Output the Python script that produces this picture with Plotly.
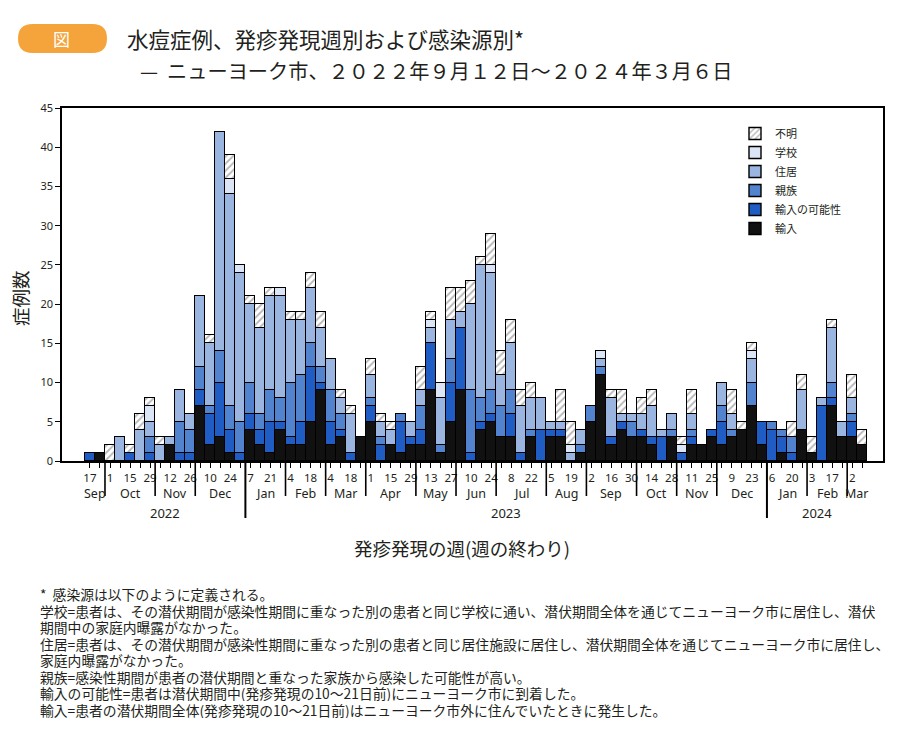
import plotly.graph_objects as go
import pandas as pd

# ---------------- data (weekly counts, week ending Saturday) ----------------
first_week = "2022-09-17"
imported = [0,1,0,0,0,0,0,0,2,0, 0,7,2,3,1,0,4,2,1,4, 2,2,5,9,2,3,0,3,5,0,
            2,1,2,2,9,1,5,9,0,4, 5,3,3,0,3,0,3,3,0,1, 5,11,2,4,3,3,2,0,3,0,
            2,2,3,2,3,4,7,2,0,1, 0,4,1,0,7,3,3,2]
possible = [1,0,0,0,1,0,1,0,0,1, 1,2,4,7,3,1,2,2,4,1, 1,3,7,1,3,1,1,0,2,2,
            0,4,1,2,6,0,5,8,1,1, 1,0,3,1,0,4,1,1,0,0, 0,0,1,1,0,1,1,3,0,1,
            1,0,1,3,0,0,0,3,4,2, 1,0,0,7,1,0,2,0]
household = [0,0,0,0,0,0,2,0,0,4, 3,3,1,4,3,4,4,2,4,3, 7,6,3,2,4,2,0,0,1,1,
             0,1,0,3,0,1,3,0,8,3, 3,4,3,0,1,0,0,0,0,1, 2,1,0,0,2,0,0,0,1,0,
             1,0,0,2,1,0,3,0,1,1, 2,0,0,0,2,0,1,0]
residence = [0,0,0,3,0,4,2,2,1,4, 2,9,8,28,27,19,10,11,12,13, 8,7,7,5,4,2,5,0,3,2,
             2,0,2,2,2,6,5,2,11,17, 15,4,6,6,4,4,1,1,1,2, 0,1,5,1,1,2,4,1,2,0,
             2,0,0,3,2,0,3,0,0,0, 0,5,0,1,7,2,2,0]
school = [0,0,0,0,0,0,2,0,0,0, 0,0,0,0,2,1,0,0,0,1, 0,0,0,0,0,0,0,0,0,0,
          0,0,0,0,1,2,0,0,0,0, 1,0,0,0,0,0,0,0,1,0, 0,1,0,0,0,0,0,0,0,1,
          0,0,0,0,0,0,1,0,0,0, 0,0,0,0,0,0,0,0]
unknown = [0,0,2,0,1,2,1,1,0,0, 0,0,1,0,3,0,1,3,1,0, 1,1,2,2,0,1,1,0,2,1,
           1,0,0,3,1,0,4,3,3,1, 4,3,3,2,2,0,0,4,3,0, 0,0,1,3,0,2,2,0,0,1,
           3,0,0,0,3,1,1,0,0,0, 2,2,2,0,1,0,3,2]

series_names = ["輸入", "輸入の可能性", "親族", "住居", "学校", "不明"]
series_values = [imported, possible, household, residence, school, unknown]
series_colors = ["#111111", "#1f5cc4", "#5283cf", "#9ab6e0", "#dbe5f5", "#ffffff"]

month_abbr = ["Jan", "Feb", "Mar", "Apr", "May", "Jun", "Jul", "Aug", "Sep", "Oct", "Nov", "Dec"]

title_line1 = "水痘症例、発疹発現週別および感染源別*"
title_line2 = "—  ニューヨーク市、２０２２年９月１２日～２０２４年３月６日"
y_title = "症例数"
x_title = "発疹発現の週(週の終わり)"
footnotes = [
    "*  感染源は以下のように定義される。",
    "学校=患者は、その潜伏期間が感染性期間に重なった別の患者と同じ学校に通い、潜伏期間全体を通じてニューヨーク市に居住し、潜伏",
    "期間中の家庭内曝露がなかった。",
    "住居=患者は、その潜伏期間が感染性期間に重なった別の患者と同じ居住施設に居住し、潜伏期間全体を通じてニューヨーク市に居住し、",
    "家庭内曝露がなかった。",
    "親族=感染性期間が患者の潜伏期間と重なった家族から感染した可能性が高い。",
    "輸入の可能性=患者は潜伏期間中(発疹発現の10～21日前)にニューヨーク市に到着した。",
    "輸入=患者の潜伏期間全体(発疹発現の10～21日前)はニューヨーク市外に住んでいたときに発生した。",
]

# ---------------- layout geometry (page has an 8px body margin) ----------------
OFF = 8
W, H = 900, 725
ML, MR, MT, MB = 54, 25, 100, 272
PW, PH = W - ML - MR, H - MT - MB


def px(xp):
    """reference-screenshot x pixel -> paper x"""
    return (xp - OFF - ML) / PW


def py(yp):
    """reference-screenshot y pixel -> paper y"""
    return (H - MB - (yp - OFF)) / PH


weeks = pd.date_range(first_week, periods=len(imported), freq="7D")
DAY = pd.Timedelta(days=1)
WEEK_MS = 7 * 24 * 3600 * 1000

JP = "Noto Sans CJK JP"
LAT = "Noto Sans"
TXT = "#231f20"

fig = go.Figure()
for name, vals, col in zip(series_names, series_values, series_colors):
    marker = dict(color=col, line=dict(color="#000000", width=1.4))
    if name == "不明":
        marker["pattern"] = dict(shape="/", fgcolor="#6e6e6e", bgcolor="#ffffff",
                                 size=5, solidity=0.35)
    fig.add_trace(go.Bar(
        x=weeks, y=[v if v else None for v in vals], name=name,
        width=WEEK_MS, marker=marker,
    ))

# ticks: every week, label every second week
tick_text = [str(d.day) if i % 2 == 0 else "" for i, d in enumerate(weeks)]

x_start = weeks[0] - 19.5 * DAY
x_end = weeks[0] + 553.5 * DAY

shapes = []
annotations = []


def ann(x, y, text, size, family=JP, color=TXT, xref="paper", xanchor="center", **kw):
    annotations.append(dict(x=x, y=y, xref=xref, yref="paper", text=text,
                            showarrow=False, xanchor=xanchor, yanchor="middle",
                            font=dict(family=family, size=size, color=color), **kw))


# month labels and separators
wk = pd.Series(weeks)
groups = wk.groupby([wk.dt.year, wk.dt.month])
keys = list(groups.groups.keys())
for k_idx, key in enumerate(keys):
    g = groups.get_group(key)
    center = g.iloc[0] + (g.iloc[-1] - g.iloc[0]) / 2
    ann(center, py(493), month_abbr[key[1] - 1], 12.5, family=LAT, xref="x")
    if k_idx > 0:
        prev = groups.get_group(keys[k_idx - 1]).iloc[-1]
        sep = prev + (g.iloc[0] - prev) / 2
        year_change = key[0] != keys[k_idx - 1][0]
        shapes.append(dict(type="line", xref="x", yref="paper", x0=sep, x1=sep,
                           y0=0, y1=py(518 if year_change else 496),
                           line=dict(color="#000000", width=2 if year_change else 1.6)))

# year labels
ygroups = wk.groupby(wk.dt.year)
for yr, g in ygroups:
    center = g.iloc[0] + (g.iloc[-1] - g.iloc[0]) / 2
    ann(center, py(513), str(yr), 13, family=LAT, xref="x")

# badge
bx0, bx1, by0, by1 = 18, 107, 24, 53
r = (by1 - by0) / 2
path = (f"M {px(bx0 + r)},{py(by0)} L {px(bx1 - r)},{py(by0)} "
        f"Q {px(bx1)},{py(by0)} {px(bx1)},{py(by0 + r)} "
        f"Q {px(bx1)},{py(by1)} {px(bx1 - r)},{py(by1)} "
        f"L {px(bx0 + r)},{py(by1)} "
        f"Q {px(bx0)},{py(by1)} {px(bx0)},{py(by0 + r)} "
        f"Q {px(bx0)},{py(by0)} {px(bx0 + r)},{py(by0)} Z")
shapes.append(dict(type="path", xref="paper", yref="paper", path=path,
                   fillcolor="#f4a43a", line=dict(width=0), layer="below"))
ann(px(61), py(38.5), "図", 17, color="#ffffff")

# titles
ann(px(125), py(38), title_line1, 21.5, xanchor="left")
ann(px(138), py(70), title_line2, 20.2, xanchor="left")

# axis titles
ann(px(20), py(298), y_title, 18.5, textangle=-90)
ann(px(462), py(548), x_title, 18.5)

# footnotes (one line each, at the reference's line pitch)
for j, line in enumerate(footnotes):
    ann(px(38), py(594 + j * 16.5), line, 13.8, xanchor="left", height=16)

fig.update_layout(
    width=W, height=H,
    margin=dict(l=ML, r=MR, t=MT, b=MB, pad=0),
    barmode="stack", bargap=0,
    paper_bgcolor="#ffffff", plot_bgcolor="#ffffff",
    showlegend=True,
    legend=dict(x=px(735), y=py(119), xanchor="left", yanchor="top",
                traceorder="reversed", bgcolor="rgba(0,0,0,0)",
                font=dict(family=JP, size=11, color=TXT), itemwidth=30,
                tracegroupgap=0),
    shapes=shapes, annotations=annotations,
    xaxis=dict(type="date", range=[x_start, x_end], tickmode="array",
               tickvals=list(weeks), ticktext=tick_text, ticks="outside",
               ticklen=5, tickwidth=1.2, tickcolor="#000000",
               showline=True, linecolor="#000000", linewidth=1.5, mirror=True,
               showgrid=False, zeroline=False,
               tickfont=dict(family=LAT, size=11.5, color=TXT)),
    yaxis=dict(range=[0, 45], tickmode="array", tickvals=list(range(0, 46, 5)),
               ticks="outside", ticklen=5, tickwidth=1, tickcolor="#000000",
               showline=True, linecolor="#000000", linewidth=1.5, mirror=True,
               showgrid=False, zeroline=False,
               tickfont=dict(family=LAT, size=11, color=TXT)),
)

fig.write_html("out.html")
